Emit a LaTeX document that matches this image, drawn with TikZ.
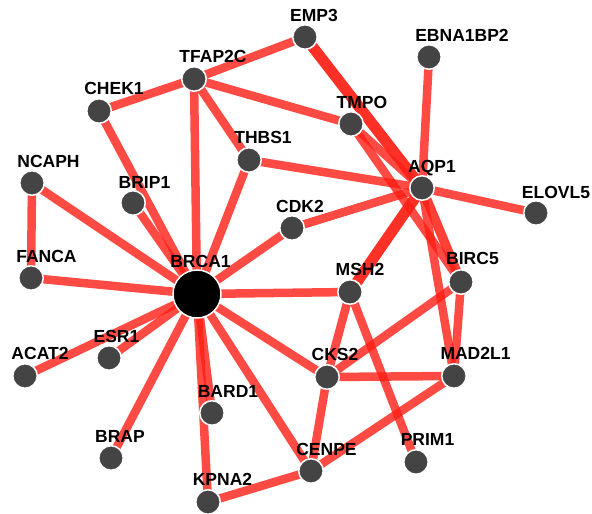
\documentclass[tikz,border=0pt]{standalone}
\usepackage{fontspec}
\setmainfont{Liberation Sans}
\usetikzlibrary{backgrounds}
\definecolor{edgered}{RGB}{255,30,20}
\definecolor{nodegray}{RGB}{68,68,68}
\tikzset{
  gn/.style={circle, fill=nodegray, draw=white, line width=1.5pt, minimum size=24.5pt, inner sep=0pt},
  hub/.style={circle, fill=black, draw=white, line width=1.5pt, minimum size=48pt, inner sep=0pt},
  lbl/.style={anchor=base, inner sep=0pt, font=\bfseries\fontsize{17.5}{18}\selectfont, text=black},
  edge/.style={draw=edgered, draw opacity=0.8, line width=8.5pt},
  thick edge/.style={draw=edgered, draw opacity=0.92, line width=11pt},
  mid edge/.style={draw=edgered, draw opacity=0.85, line width=9.5pt},
}
\begin{document}
\begin{tikzpicture}[x=1pt, y=-1pt]
\useasboundingbox (0,0) rectangle (592,514);
% nodes
\node[gn] (EMP3) at (305,37) {};
\node[gn] (EBNA1BP2) at (429,57) {};
\node[gn] (TFAP2C) at (194,79) {};
\node[gn] (CHEK1) at (99,111) {};
\node[gn] (TMPO) at (351,124) {};
\node[gn] (THBS1) at (249,160) {};
\node[gn] (NCAPH) at (32,183) {};
\node[gn] (AQP1) at (422,188) {};
\node[gn] (BRIP1) at (133,203) {};
\node[gn] (ELOVL5) at (536,213) {};
\node[gn] (CDK2) at (292,228) {};
\node[gn] (FANCA) at (31,278) {};
\node[hub] (BRCA1) at (197,294) {};
\node[gn] (MSH2) at (350,292) {};
\node[gn] (BIRC5) at (461,282) {};
\node[gn] (ESR1) at (109,358) {};
\node[gn] (ACAT2) at (25,376) {};
\node[gn] (CKS2) at (327,377) {};
\node[gn] (MAD2L1) at (454,376) {};
\node[gn] (BARD1) at (212,413) {};
\node[gn] (BRAP) at (111,458) {};
\node[gn] (CENPE) at (311,471) {};
\node[gn] (PRIM1) at (416,462) {};
\node[gn] (KPNA2) at (208,502) {};
% edges
\begin{pgfonlayer}{background}
\draw[edge] (EMP3.center) -- (TFAP2C.center);
\draw[thick edge] (EMP3.center) -- (AQP1.center);
\draw[edge] (EBNA1BP2.center) -- (AQP1.center);
\draw[edge] (TFAP2C.center) -- (CHEK1.center);
\draw[edge] (TFAP2C.center) -- (TMPO.center);
\draw[edge] (TFAP2C.center) -- (THBS1.center);
\draw[edge] (TFAP2C.center) -- (BRCA1.center);
\draw[edge] (CHEK1.center) -- (BRCA1.center);
\draw[edge] (THBS1.center) -- (AQP1.center);
\draw[edge] (THBS1.center) -- (BRCA1.center);
\draw[edge] (NCAPH.center) -- (FANCA.center);
\draw[edge] (NCAPH.center) -- (BRCA1.center);
\draw[edge] (BRIP1.center) -- (BRCA1.center);
\draw[edge] (TMPO.center) -- (AQP1.center);
\draw[edge] (TMPO.center) -- (BIRC5.center);
\draw[edge] (AQP1.center) -- (ELOVL5.center);
\draw[edge] (AQP1.center) -- (CDK2.center);
\draw[thick edge] (AQP1.center) -- (MSH2.center);
\draw[mid edge] (AQP1.center) -- (BIRC5.center);
\draw[edge] (AQP1.center) -- (MAD2L1.center);
\draw[edge] (CDK2.center) -- (BRCA1.center);
\draw[edge] (FANCA.center) -- (BRCA1.center);
\draw[edge] (BRCA1.center) -- (MSH2.center);
\draw[edge] (BRCA1.center) -- (ESR1.center);
\draw[edge] (BRCA1.center) -- (ACAT2.center);
\draw[edge] (BRCA1.center) -- (BRAP.center);
\draw[edge] (BRCA1.center) -- (BARD1.center);
\draw[edge] (BRCA1.center) -- (KPNA2.center);
\draw[edge] (BRCA1.center) -- (CENPE.center);
\draw[edge] (BRCA1.center) -- (CKS2.center);
\draw[edge] (KPNA2.center) -- (CENPE.center);
\draw[edge] (CENPE.center) -- (CKS2.center);
\draw[edge] (CENPE.center) -- (MAD2L1.center);
\draw[edge] (CKS2.center) -- (MSH2.center);
\draw[edge] (CKS2.center) -- (MAD2L1.center);
\draw[edge] (CKS2.center) -- (BIRC5.center);
\draw[edge] (MSH2.center) -- (PRIM1.center);
\draw[edge] (BIRC5.center) -- (MAD2L1.center);
\end{pgfonlayer}
% labels
\node[lbl] (lEMP3) at (314,21) {EMP3};
\node[lbl] (lEBNA1BP2) at (462,41) {EBNA1BP2};
\node[lbl] (lTFAP2C) at (213,62) {TFAP2C};
\node[lbl] (lCHEK1) at (114,94) {CHEK1};
\node[lbl] (lTMPO) at (362,108) {TMPO};
\node[lbl] (lTHBS1) at (263,143) {THBS1};
\node[lbl] (lNCAPH) at (48.5,167) {NCAPH};
\node[lbl] (lAQP1) at (432,172) {AQP1};
\node[lbl] (lBRIP1) at (144.5,188) {BRIP1};
\node[lbl] (lELOVL5) at (556,198) {ELOVL5};
\node[lbl] (lCDK2) at (300,212) {CDK2};
\node[lbl] (lFANCA) at (46.5,262) {FANCA};
\node[lbl] (lBRCA1) at (200.5,267) {BRCA1};
\node[lbl] (lMSH2) at (360,275) {MSH2};
\node[lbl] (lBIRC5) at (472.5,264) {BIRC5};
\node[lbl] (lESR1) at (116.5,342) {ESR1};
\node[lbl] (lACAT2) at (40,359) {ACAT2};
\node[lbl] (lCKS2) at (335,360) {CKS2};
\node[lbl] (lMAD2L1) at (475.5,359) {MAD2L1};
\node[lbl] (lBARD1) at (228,397) {BARD1};
\node[lbl] (lBRAP) at (120,442) {BRAP};
\node[lbl] (lCENPE) at (326.5,455) {CENPE};
\node[lbl] (lPRIM1) at (427.5,445) {PRIM1};
\node[lbl] (lKPNA2) at (222.5,485) {KPNA2};
\end{tikzpicture}
\end{document}
